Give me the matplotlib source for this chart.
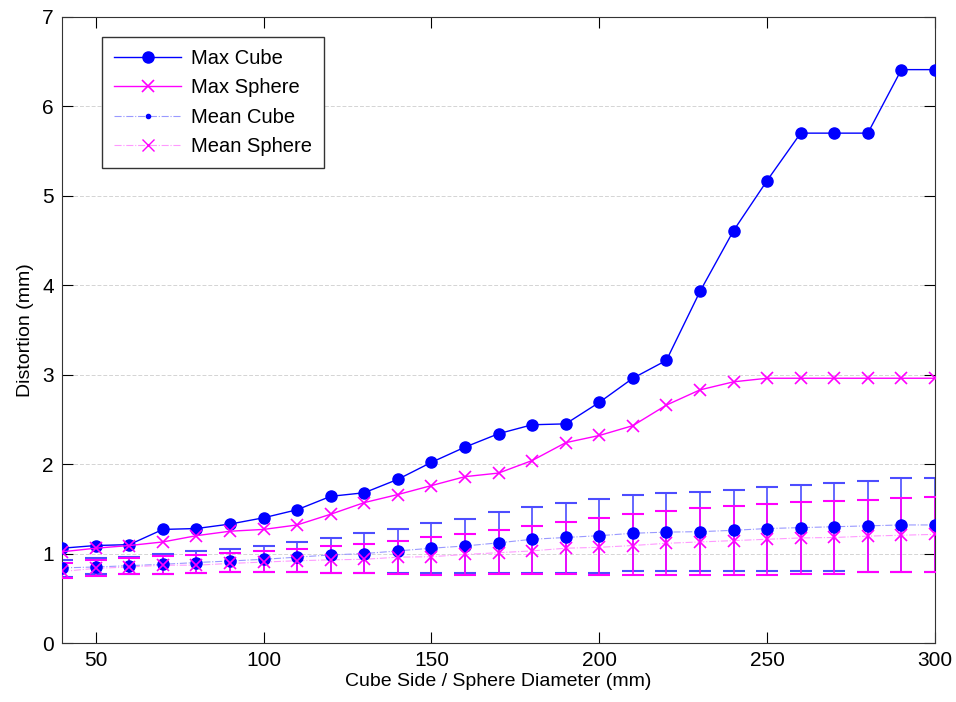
import matplotlib.pyplot as plt
from matplotlib.lines import Line2D
import numpy as np

plt.rcParams['font.family'] = ['Liberation Sans', 'DejaVu Sans']

size = np.arange(40, 301, 10)

max_cube = [1.06, 1.09, 1.10, 1.27, 1.28, 1.33, 1.40, 1.49, 1.64, 1.68, 1.83, 2.02, 2.19, 2.34,
            2.44, 2.45, 2.69, 2.96, 3.16, 3.93, 4.61, 5.17, 5.70, 5.70, 5.70, 6.41, 6.41]
max_sphere = [1.02, 1.06, 1.09, 1.13, 1.20, 1.25, 1.27, 1.32, 1.44, 1.57, 1.66, 1.76, 1.86, 1.90,
              2.04, 2.24, 2.32, 2.43, 2.66, 2.83, 2.92, 2.96, 2.96, 2.96, 2.96, 2.96, 2.96]

mean_cube = [0.84, 0.85, 0.865, 0.88, 0.90, 0.917, 0.936, 0.96, 0.985, 1.00, 1.03, 1.06, 1.085, 1.12,
             1.16, 1.18, 1.20, 1.227, 1.24, 1.245, 1.26, 1.28, 1.29, 1.30, 1.31, 1.32, 1.32]
cube_upper = [0.93, 0.95, 0.965, 1.00, 1.025, 1.05, 1.09, 1.13, 1.175, 1.23, 1.28, 1.34, 1.39, 1.46,
              1.52, 1.56, 1.61, 1.655, 1.675, 1.69, 1.715, 1.74, 1.77, 1.79, 1.815, 1.84, 1.84]
cube_lower = [0.74, 0.77, 0.775, 0.775, 0.78, 0.79, 0.79, 0.79, 0.78, 0.78, 0.78, 0.78, 0.78, 0.78,
              0.78, 0.78, 0.78, 0.80, 0.805, 0.81, 0.81, 0.81, 0.81, 0.80, 0.79, 0.79, 0.79]

mean_sphere = [0.80, 0.835, 0.85, 0.87, 0.87, 0.89, 0.905, 0.92, 0.93, 0.936, 0.96, 0.965, 0.99, 1.01,
               1.03, 1.06, 1.07, 1.09, 1.115, 1.13, 1.145, 1.16, 1.175, 1.18, 1.195, 1.205, 1.215]
sphere_upper = [0.90, 0.925, 0.95, 0.975, 0.985, 1.01, 1.03, 1.05, 1.08, 1.11, 1.14, 1.18, 1.22, 1.26,
                1.305, 1.35, 1.40, 1.44, 1.48, 1.505, 1.53, 1.555, 1.575, 1.59, 1.60, 1.62, 1.63]
sphere_lower = [0.73, 0.75, 0.77, 0.775, 0.78, 0.79, 0.79, 0.79, 0.78, 0.78, 0.77, 0.76, 0.76, 0.77,
                0.77, 0.77, 0.76, 0.757, 0.757, 0.757, 0.76, 0.76, 0.77, 0.77, 0.79, 0.79, 0.79]

blue = (0, 0, 1)
magenta = (1, 0, 1)

fig = plt.figure(figsize=(9.56, 7.02), dpi=100)
ax = fig.add_axes([0.065, 0.084, 0.913, 0.892])

# error bars (mean +- spread)
mc = np.array(mean_cube)
ms = np.array(mean_sphere)
ax.errorbar(size, mc, yerr=[mc - np.array(cube_lower), np.array(cube_upper) - mc],
            fmt='none', ecolor=(0.3, 0.3, 1), elinewidth=1.2, capsize=8, capthick=1.5, zorder=2)
ax.errorbar(size, ms, yerr=[ms - np.array(sphere_lower), np.array(sphere_upper) - ms],
            fmt='none', ecolor=magenta, elinewidth=1.2, capsize=8, capthick=1.5, zorder=3)

# mean lines
ax.plot(size, mean_cube, '-.', color=(0.6, 0.6, 1), lw=0.8, zorder=4)
ax.plot(size, mean_cube, 'o', color=blue, ms=8, zorder=5)
ax.plot(size, mean_sphere, '-.', color=(1, 0.6, 1), lw=0.8, zorder=4)
ax.plot(size, mean_sphere, 'x', color=magenta, ms=9, mew=1.2, zorder=5)

# max lines
ax.plot(size, max_cube, '-o', color=blue, lw=1, ms=8, zorder=6)
ax.plot(size, max_sphere, '-x', color=magenta, lw=1, ms=9, mew=1.2, zorder=6)

ax.set_xlim(40, 300)
ax.set_ylim(0, 7)
ax.set_xticks([50, 100, 150, 200, 250, 300])
ax.set_yticks(range(0, 8))
ax.tick_params(direction='in', top=True, right=True, labelsize=15, length=8, pad=6)
ax.yaxis.grid(True, color='#d4d4d4', linestyle='--', lw=0.7, dashes=(4, 2))
ax.set_axisbelow(True)
for s in ax.spines.values():
    s.set_color('#333333')

ax.set_xlabel('Cube Side / Sphere Diameter (mm)', fontsize=14, labelpad=2)
ax.set_ylabel('Distortion (mm)', fontsize=14, labelpad=6)

handles = [
    Line2D([], [], color=blue, lw=1, marker='o', ms=8),
    Line2D([], [], color=magenta, lw=1, marker='x', ms=9, mew=1.2),
    Line2D([], [], color=(0.6, 0.6, 1), lw=0.8, ls='-.', marker='.', mfc=blue, mec=blue, ms=6),
    Line2D([], [], color=(1, 0.6, 1), lw=0.8, ls='-.', marker='x', mfc=magenta, mec=magenta, ms=9),
]
leg = ax.legend(handles, ['Max Cube', 'Max Sphere', 'Mean Cube', 'Mean Sphere'],
                loc='upper left', bbox_to_anchor=(0.046, 0.968), borderaxespad=0, fontsize=14.5,
                fancybox=False, framealpha=1, edgecolor='#333333', handlelength=3.3,
                labelspacing=0.52, borderpad=0.6, handletextpad=0.5)
leg.get_frame().set_linewidth(1)

fig.savefig('out.png', dpi=100)
